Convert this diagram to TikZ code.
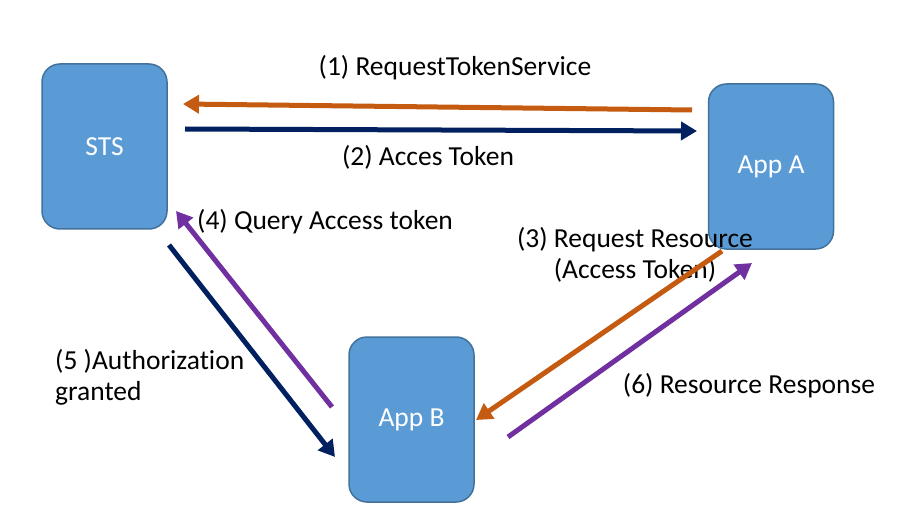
\documentclass[tikz,border=0pt]{standalone}
\usepackage{fontspec}
\setmainfont[Ligatures=NoCommon]{Carlito}
\usetikzlibrary{arrows.meta}
\definecolor{boxfill}{HTML}{5B9BD5}
\definecolor{boxline}{HTML}{41719C}
\definecolor{orangeA}{HTML}{C55A11}
\definecolor{navyA}{HTML}{002060}
\definecolor{purpleA}{HTML}{7030A0}
\begin{document}
\begin{tikzpicture}[x=1pt,y=-1pt,
  sysbox/.style={draw=boxline,line width=1.5pt,fill=boxfill,rounded corners=18pt,minimum width=125pt,minimum height=165pt,inner sep=0pt,text=white,font=\fontsize{27.5}{31}\selectfont},
  flow/.style={line width=5pt,-{Triangle[length=16pt,width=18pt]}},
  lbl/.style={font=\fontsize{27.5}{31}\selectfont,inner sep=0pt}]
\useasboundingbox (0,0) rectangle (901,529);
\node[sysbox] (sts) at (104.5,146.5) {\raisebox{-2pt}{STS}};
\node[sysbox] (appa) at (771,166.5) {\raisebox{-2pt}{App A}};
\node[sysbox] (appb) at (411.5,419.5) {\raisebox{-2pt}{App B}};
\coordinate (o1s) at (692,110); \coordinate (o1e) at (183,104);
\coordinate (n2s) at (185,129); \coordinate (n2e) at (697,131);
\coordinate (o3s) at (722,251); \coordinate (o3e) at (476,420);
\coordinate (p4s) at (332,407); \coordinate (p4e) at (176,211);
\coordinate (n5s) at (169,245); \coordinate (n5e) at (335,457);
\coordinate (p6s) at (508,437); \coordinate (p6e) at (752,263);
\node[lbl] (l1) at (455,68) {(1) RequestTokenService};
\node[lbl] (l2) at (428,157) {(2) Acces Token};
\node[lbl] (l4) at (325,222) {(4) Query Access token};
\node[lbl,align=center] (l3) at (635,255) {(3) Request Resource\\(Access Token)};
\node[lbl,align=left,anchor=west] (l5) at (55,377.5) {(5 )Authorization\\granted};
\node[lbl] (l6) at (749,386) {(6) Resource Response};
\draw[flow,orangeA] (o1s) -- (o1e);
\draw[flow,navyA] (n2s) -- (n2e);
\draw[flow,orangeA] (o3s) -- (o3e);
\draw[flow,purpleA] (p4s) -- (p4e);
\draw[flow,navyA] (n5s) -- (n5e);
\draw[flow,purpleA] (p6s) -- (p6e);
\end{tikzpicture}
\end{document}
